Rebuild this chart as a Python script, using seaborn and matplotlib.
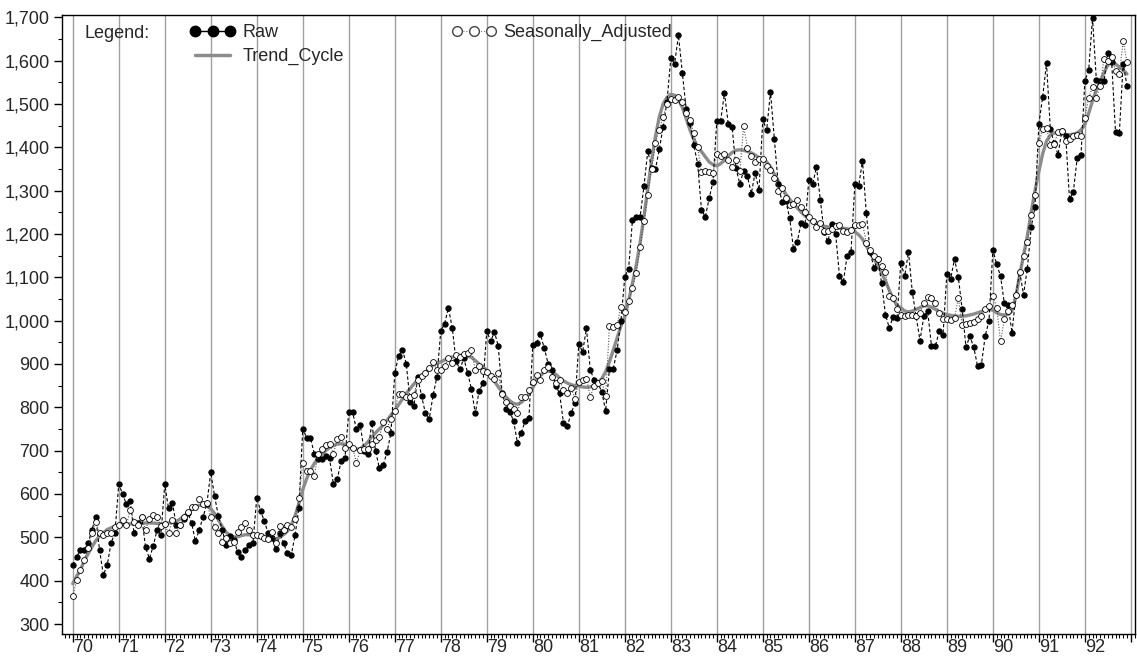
import numpy as np
import pandas as pd
import matplotlib.pyplot as plt
import seaborn as sns
from matplotlib.lines import Line2D
from matplotlib.ticker import FuncFormatter, MultipleLocator
from matplotlib.transforms import ScaledTranslation

# Monthly series, Jan 1970 .. Dec 1992 (one row per year)
first_year = 1970
year_labels = ["70", "71", "72", "73", "74", "75", "76", "77", "78", "79", "80", "81",
               "82", "83", "84", "85", "86", "87", "88", "89", "90", "91", "92", ""]

raw = [
    436, 455, 470, 470, 486, 517, 547, 470, 413, 436, 487, 510,
    622, 601, 576, 584, 509, 532, 547, 477, 451, 480, 517, 505,
    622, 567, 580, 528, 528, 543, 557, 534, 491, 517, 547, 578,
    650, 595, 549, 517, 482, 503, 494, 467, 455, 470, 483, 486,
    591, 561, 537, 509, 499, 472, 509, 487, 463, 459, 505, 568,
    751, 730, 730, 693, 680, 680, 687, 682, 622, 634, 676, 682,
    789, 789, 749, 759, 700, 693, 764, 699, 659, 667, 697, 741,
    878, 919, 932, 901, 813, 803, 869, 826, 786, 774, 828, 870,
    976, 993, 1029, 983, 906, 888, 913, 880, 842, 786, 838, 855,
    976, 952, 974, 941, 833, 795, 790, 768, 718, 741, 768, 776,
    943, 949, 968, 936, 901, 887, 849, 832, 764, 756, 786, 809,
    946, 928, 982, 886, 864, 855, 836, 791, 889, 889, 932, 1000,
    1101, 1120, 1232, 1238, 1240, 1310, 1391, 1352, 1350, 1395, 1447, 1505,
    1605, 1593, 1658, 1572, 1489, 1455, 1405, 1362, 1256, 1239, 1282, 1320,
    1461, 1461, 1525, 1453, 1447, 1351, 1316, 1345, 1333, 1293, 1341, 1301,
    1464, 1439, 1528, 1420, 1316, 1274, 1276, 1237, 1165, 1182, 1226, 1221,
    1324, 1314, 1355, 1278, 1204, 1183, 1224, 1200, 1103, 1089, 1150, 1158,
    1314, 1310, 1369, 1248, 1158, 1121, 1142, 1086, 1013, 983, 1009, 1006,
    1134, 1102, 1159, 1065, 1010, 954, 1010, 1022, 941, 941, 975, 966,
    1107, 1097, 1142, 1100, 1026, 939, 964, 939, 896, 898, 964, 1000,
    1163, 1130, 1103, 1040, 1035, 972, 1060, 1113, 1060, 1120, 1215, 1262,
    1454, 1516, 1594, 1441, 1410, 1383, 1438, 1427, 1280, 1297, 1375, 1383,
    1553, 1578, 1699, 1555, 1553, 1553, 1617, 1596, 1434, 1433, 1593, 1541,
]

seasonally_adjusted = [
    364, 401, 424, 447, 475, 509, 536, 509, 505, 509, 509, 524,
    528, 541, 528, 564, 536, 528, 547, 517, 543, 551, 546, 526,
    530, 509, 541, 510, 528, 547, 559, 570, 570, 589, 578, 580,
    547, 524, 509, 490, 499, 486, 490, 513, 523, 533, 517, 505,
    505, 503, 499, 497, 513, 487, 526, 517, 528, 524, 543, 590,
    672, 653, 653, 641, 693, 703, 713, 715, 693, 726, 732, 707,
    715, 707, 672, 701, 703, 703, 715, 724, 732, 766, 751, 774,
    792, 830, 830, 823, 824, 828, 863, 872, 878, 890, 905, 886,
    886, 895, 913, 903, 920, 915, 924, 926, 933, 886, 895, 884,
    882, 872, 866, 878, 830, 813, 803, 797, 787, 824, 824, 839,
    859, 874, 863, 886, 893, 870, 855, 862, 840, 832, 845, 820,
    859, 862, 866, 824, 850, 855, 860, 826, 987, 986, 989, 1032,
    1020, 1045, 1075, 1110, 1170, 1230, 1290, 1350, 1410, 1440, 1470, 1500,
    1512, 1510, 1516, 1505, 1480, 1462, 1432, 1400, 1343, 1345, 1343, 1341,
    1385, 1380, 1385, 1370, 1355, 1370, 1345, 1448, 1399, 1380, 1365, 1372,
    1372, 1356, 1347, 1330, 1300, 1305, 1282, 1266, 1270, 1278, 1262, 1250,
    1240, 1230, 1215, 1225, 1206, 1207, 1212, 1218, 1220, 1206, 1204, 1208,
    1221, 1221, 1224, 1180, 1164, 1150, 1142, 1125, 1111, 1057, 1051, 1026,
    1014, 1010, 1012, 1012, 1010, 1018, 1041, 1055, 1051, 1040, 1018, 1003,
    1003, 1001, 1006, 1053, 989, 991, 995, 997, 1003, 1010, 1026, 1034,
    1057, 1030, 952, 1003, 1022, 1035, 1060, 1111, 1150, 1181, 1243, 1289,
    1410, 1441, 1445, 1406, 1407, 1435, 1437, 1415, 1420, 1425, 1429, 1425,
    1468, 1514, 1539, 1514, 1542, 1604, 1600, 1607, 1576, 1570, 1645, 1596,
]

trend_cycle = [
    393, 410, 425, 445, 462, 478, 492, 503, 511, 518, 522, 525,
    527, 529, 530, 531, 532, 533, 533, 533, 533, 533, 532, 532,
    532, 533, 534, 537, 542, 549, 556, 564, 570, 574, 575, 573,
    566, 555, 540, 525, 512, 504, 501, 501, 504, 506, 506, 505,
    503, 501, 498, 496, 495, 496, 500, 506, 514, 528, 550, 578,
    610, 635, 655, 670, 682, 692, 700, 707, 712, 715, 716, 714,
    709, 705, 703, 705, 711, 720, 732, 741, 750, 759, 770, 782,
    793, 806, 819, 832, 843, 854, 863, 872, 881, 890, 897, 902,
    905, 909, 913, 916, 918, 920, 920, 918, 915, 908, 900, 893,
    886, 874, 860, 847, 835, 824, 815, 809, 807, 811, 820, 830,
    845, 862, 874, 881, 884, 882, 876, 868, 861, 856, 852, 850,
    849, 847, 846, 847, 850, 856, 866, 882, 905, 932, 960, 988,
    1009, 1045, 1086, 1128, 1180, 1240, 1305, 1370, 1425, 1470, 1500, 1515,
    1522, 1520, 1510, 1492, 1466, 1440, 1418, 1400, 1390, 1378, 1366, 1360,
    1357, 1362, 1370, 1380, 1388, 1393, 1394, 1393, 1390, 1387, 1382, 1376,
    1374, 1366, 1355, 1338, 1322, 1307, 1292, 1280, 1270, 1260, 1250, 1242,
    1235, 1230, 1226, 1221, 1218, 1216, 1214, 1213, 1213, 1213, 1212, 1209,
    1205, 1198, 1188, 1172, 1157, 1142, 1127, 1110, 1091, 1070, 1050, 1035,
    1030, 1022, 1020, 1022, 1026, 1030, 1034, 1034, 1031, 1026, 1021, 1017,
    1014, 1012, 1011, 1010, 1010, 1011, 1013, 1015, 1018, 1021, 1024, 1026,
    1024, 1018, 1014, 1013, 1014, 1022, 1055, 1105, 1150, 1195, 1250, 1300,
    1344, 1385, 1414, 1428, 1433, 1433, 1430, 1429, 1429, 1430, 1433, 1440,
    1452, 1478, 1507, 1532, 1552, 1572, 1590, 1595, 1592, 1585, 1578, 1569,
]

df = pd.DataFrame({
    "date": first_year + np.arange(len(raw)) / 12,
    "Raw": raw,
    "Seasonally_Adjusted": seasonally_adjusted,
    "Trend_Cycle": trend_cycle,
})

sns.set_style("ticks")
plt.rcParams["font.family"] = ["Liberation Sans", "DejaVu Sans"]

W, H = 1137, 666
fig = plt.figure(figsize=(W / 100, H / 100), dpi=100)
ax = fig.add_axes([62 / W, 1 - 634 / H, (1135 - 62) / W, (634 - 15) / H])

# vertical reference lines at each year
years = np.arange(first_year, first_year + len(year_labels))
for yr in years:
    ax.axvline(yr, color="#a0a0a0", lw=1, zorder=0)

sns.lineplot(data=df, x="date", y="Trend_Cycle", ax=ax, color="#8c8c8c",
             lw=2.4, zorder=2, estimator=None, sort=False)
sns.lineplot(data=df, x="date", y="Raw", ax=ax, color="black", lw=0.8,
             linestyle=(0, (3, 2)), marker="o", markersize=3.8,
             markerfacecolor="black", markeredgecolor="black",
             zorder=3, estimator=None, sort=False)
sns.lineplot(data=df, x="date", y="Seasonally_Adjusted", ax=ax, color="#555555",
             lw=0.8, linestyle=(0, (1, 1.5)), marker="o", markersize=4.2,
             markerfacecolor="white", markeredgecolor="black",
             markeredgewidth=0.6, zorder=4, estimator=None, sort=False)

ax.set_xlim(1969.767, 1993.09)
ax.set_ylim(277, 1705)
ax.set_xticks(years)
ax.set_xticklabels(year_labels, ha="left", fontsize=13)
# nudge year labels a little right of their tick, as in the original
shift = ScaledTranslation(3 / 72, 0, fig.dpi_scale_trans)
for lab in ax.get_xticklabels():
    lab.set_transform(lab.get_transform() + shift)
ax.xaxis.set_minor_locator(MultipleLocator(1 / 12))
ax.set_yticks(np.arange(300, 1701, 100))
ax.yaxis.set_major_formatter(FuncFormatter(lambda v, p: f"{v:,.0f}"))
ax.yaxis.set_minor_locator(MultipleLocator(50))
ax.tick_params(axis="both", which="major", length=6, width=1,
               color="black", labelsize=13, pad=3)
ax.tick_params(axis="x", which="major", pad=-2.5)
ax.tick_params(axis="both", which="minor", length=3, width=0.8, color="black")
ax.set_xlabel("")
ax.set_ylabel("")
for s in ax.spines.values():
    s.set_color("black")
    s.set_linewidth(1)

handles = [
    Line2D([], [], color="black", lw=1.0, marker="o", markersize=7.5),
    Line2D([], [], color="#8c8c8c", lw=2.5),
    Line2D([], [], color="#777777", lw=0.8, ls=":", marker="o", markersize=7,
           markerfacecolor="white", markeredgecolor="#444444"),
]
ax.legend(handles, ["Raw", "Trend_Cycle", "Seasonally_Adjusted"], ncol=2,
          numpoints=3, frameon=False, loc="upper left",
          bbox_to_anchor=(190 / W, 1 - 24 / H), bbox_transform=fig.transFigure,
          borderaxespad=0, borderpad=0, handlelength=2.5, handletextpad=0.4,
          columnspacing=5.95, labelspacing=0.4, fontsize=13)
fig.text(85 / W, 1 - 33 / H, "Legend:", fontsize=13, va="center", ha="left")

fig.savefig("out.png", dpi=100)
